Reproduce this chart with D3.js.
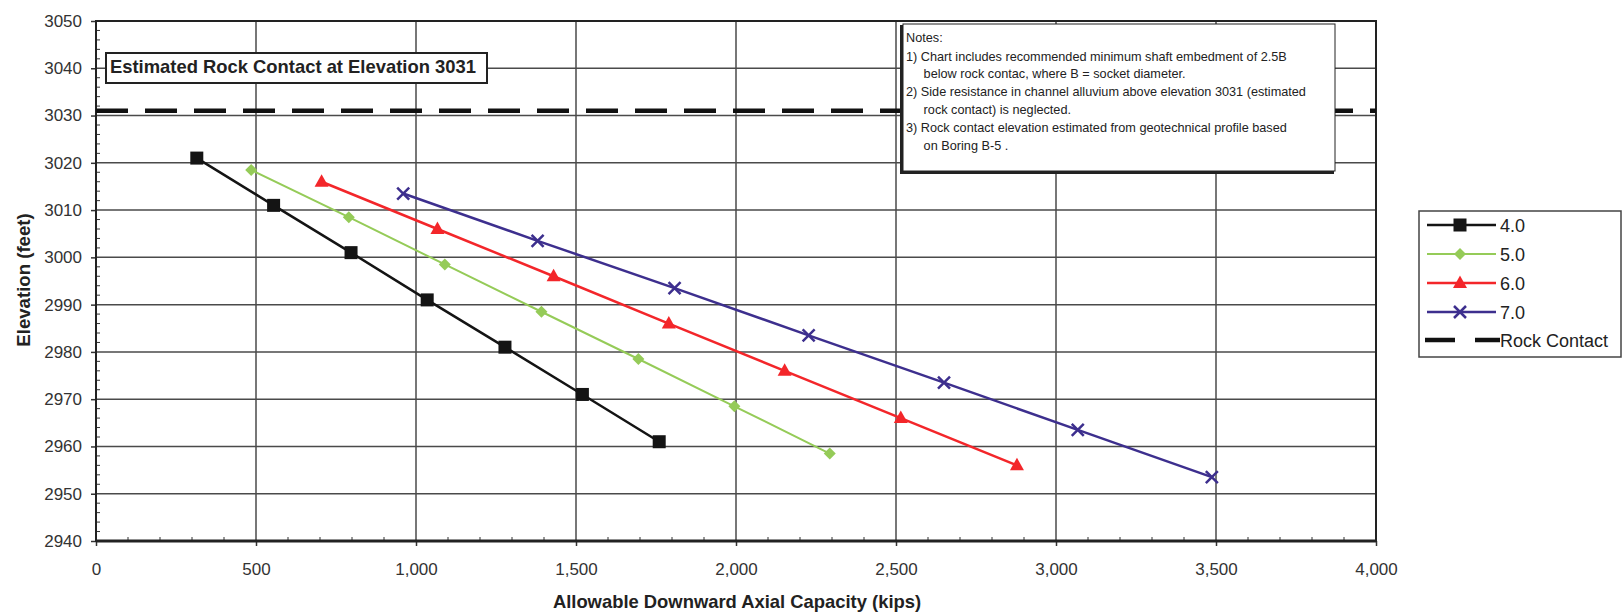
<!DOCTYPE html>
<html><head><meta charset="utf-8">
<script src="https://cdn.jsdelivr.net/npm/d3@7"></script>
<style>body{margin:0;background:#fff;} svg{display:block;} text{font-family:"Liberation Sans",Arial,sans-serif;}</style>
</head><body><svg id="c" width="1623" height="612"></svg>
<script>
const elev40 = [3021, 3011, 3001, 2991, 2981, 2971, 2961];
const cap40  = [315, 555, 797, 1035, 1278, 1520, 1760];
const elev50 = [3018.5, 3008.5, 2998.5, 2988.5, 2978.5, 2968.5, 2958.5];
const cap50  = [485, 790, 1090, 1392, 1695, 1995, 2293];
const elev60 = [3016, 3006, 2996, 2986, 2976, 2966, 2956];
const cap60  = [705, 1067, 1430, 1790, 2152, 2515, 2878];
const elev70 = [3013.5, 3003.5, 2993.5, 2983.5, 2973.5, 2963.5, 2953.5];
const cap70  = [960, 1380, 1808, 2227, 2650, 3068, 3487];
const seriesNames = ["4.0", "5.0", "6.0", "7.0"];
const rockContact = 3031;
const xTicks = [0, 500, 1000, 1500, 2000, 2500, 3000, 3500, 4000];
const yTicks = [2940, 2950, 2960, 2970, 2980, 2990, 3000, 3010, 3020, 3030, 3040, 3050];
const notes = [
  "Notes:",
  "1) Chart includes recommended minimum shaft embedment of 2.5B",
  "     below rock contac, where B = socket diameter.",
  "2) Side resistance in channel alluvium above elevation 3031 (estimated",
  "     rock contact) is neglected.",
  "3) Rock contact elevation estimated from geotechnical profile based",
  "     on Boring B-5 ."
];

const svg = d3.select("#c");
const x = d3.scaleLinear().domain([0, 4000]).range([96, 1376]);
const y = d3.scaleLinear().domain([2940, 3050]).range([541, 21]);
const L = 96, R = 1376, T = 21, B = 541;

// grid
svg.append("g").selectAll("line").data(xTicks.slice(1, -1)).join("line")
  .attr("x1", d => x(d)).attr("x2", d => x(d)).attr("y1", T).attr("y2", B)
  .attr("stroke", "#4a4a4a").attr("stroke-width", 1.5);
svg.append("g").selectAll("line").data(yTicks.slice(1, -1)).join("line")
  .attr("y1", d => y(d)).attr("y2", d => y(d)).attr("x1", L).attr("x2", R)
  .attr("stroke", "#4a4a4a").attr("stroke-width", 1.5);

// minor ticks
const xMinor = d3.range(0, 4001, 100).filter(v => v % 500 !== 0);
const yMinor = d3.range(2940, 3051, 2).filter(v => v % 10 !== 0);
svg.append("g").selectAll("line").data(xMinor).join("line")
  .attr("x1", d => x(d)).attr("x2", d => x(d)).attr("y1", B).attr("y2", B - 4)
  .attr("stroke", "#333").attr("stroke-width", 1);
svg.append("g").selectAll("line").data(yMinor).join("line")
  .attr("y1", d => y(d)).attr("y2", d => y(d)).attr("x1", L).attr("x2", L + 4)
  .attr("stroke", "#333").attr("stroke-width", 1);

// axes
const xAxis = svg.append("g").attr("transform", `translate(0,${B})`)
  .call(d3.axisBottom(x).tickValues(xTicks).tickFormat(d3.format(",")).tickSize(5).tickPadding(17));
const yAxis = svg.append("g").attr("transform", `translate(${L},0)`)
  .call(d3.axisLeft(y).tickValues(yTicks).tickFormat(d3.format("d")).tickSize(5).tickPadding(9));
[xAxis, yAxis].forEach(a => {
  a.select(".domain").remove();
  a.selectAll("line").attr("stroke", "#333").attr("stroke-width", 1.5);
  a.selectAll("text").attr("font-size", 17).attr("fill", "#333")
    .attr("font-family", "'Liberation Sans', Arial, sans-serif");
});
xAxis.selectAll("text").attr("dy", null).attr("y", 34);

// plot frame
svg.append("rect").attr("x", L).attr("y", T).attr("width", R - L).attr("height", B - T)
  .attr("fill", "none").attr("stroke", "#222").attr("stroke-width", 2);
svg.append("line").attr("x1", L).attr("x2", R).attr("y1", B).attr("y2", B)
  .attr("stroke", "#222").attr("stroke-width", 3);

// rock contact dashed line
svg.append("line").attr("x1", x(0)).attr("x2", x(4000)).attr("y1", y(rockContact)).attr("y2", y(rockContact))
  .attr("stroke", "#111").attr("stroke-width", 4.5).attr("stroke-dasharray", "32,17");

// series
const series = [
  {name: seriesNames[0], xs: cap40, ys: elev40, color: "#141414", w: 2.5, shape: "square"},
  {name: seriesNames[1], xs: cap50, ys: elev50, color: "#95cb58", w: 2, shape: "diamond"},
  {name: seriesNames[2], xs: cap60, ys: elev60, color: "#f3262a", w: 2.5, shape: "triangle"},
  {name: seriesNames[3], xs: cap70, ys: elev70, color: "#3d2f8e", w: 2.5, shape: "x"}
];
const line = d3.line().x(d => x(d[0])).y(d => y(d[1]));
function marker(g, shape, color, cx, cy) {
  if (shape === "square") {
    g.append("rect").attr("x", cx - 6.5).attr("y", cy - 6.5).attr("width", 13).attr("height", 13).attr("fill", color);
  } else if (shape === "diamond") {
    g.append("path").attr("d", `M${cx},${cy-6}L${cx+6},${cy}L${cx},${cy+6}L${cx-6},${cy}Z`).attr("fill", color);
  } else if (shape === "triangle") {
    g.append("path").attr("d", `M${cx},${cy-7.5}L${cx+7},${cy+5}L${cx-7},${cy+5}Z`).attr("fill", color);
  } else {
    g.append("path").attr("d", `M${cx-6},${cy-6}L${cx+6},${cy+6}M${cx-6},${cy+6}L${cx+6},${cy-6}`)
      .attr("stroke", color).attr("stroke-width", 2.5).attr("fill", "none");
  }
}
series.forEach(s => {
  const pts = s.xs.map((v, i) => [v, s.ys[i]]);
  svg.append("path").attr("d", line(pts)).attr("fill", "none").attr("stroke", s.color).attr("stroke-width", s.w);
  const g = svg.append("g");
  pts.forEach(p => marker(g, s.shape, s.color, x(p[0]), y(p[1])));
});

// rock contact label box
svg.append("rect").attr("x", 106).attr("y", 53).attr("width", 381).attr("height", 30)
  .attr("fill", "#fff").attr("stroke", "#222").attr("stroke-width", 2);
svg.append("text").attr("x", 110).attr("y", 72.5).attr("font-size", 18.4).attr("font-weight", "bold")
  .attr("fill", "#222").text("Estimated Rock Contact at Elevation " + rockContact);

// notes box
svg.append("rect").attr("x", 900).attr("y", 25).attr("width", 434).attr("height", 149).attr("fill", "#222");
svg.append("rect").attr("x", 903).attr("y", 24).attr("width", 432).attr("height", 147)
  .attr("fill", "#fff").attr("stroke", "#222").attr("stroke-width", 1);
const nb = [42, 61, 78, 96, 114, 132, 150];
svg.append("g").selectAll("text").data(notes).join("text")
  .attr("x", 906).attr("y", (d, i) => nb[i]).attr("font-size", 12.7).attr("fill", "#222")
  .attr("xml:space", "preserve").style("white-space", "pre").text(d => d);

// axis titles
svg.append("text").attr("x", 737).attr("y", 608).attr("text-anchor", "middle")
  .attr("font-size", 18.4).attr("font-weight", "bold").attr("fill", "#222")
  .text("Allowable Downward Axial Capacity (kips)");
svg.append("text").attr("transform", "translate(30,280) rotate(-90)").attr("text-anchor", "middle")
  .attr("font-size", 18.6).attr("font-weight", "bold").attr("fill", "#222").text("Elevation (feet)");

// legend
const lg = svg.append("g");
lg.append("rect").attr("x", 1419).attr("y", 211).attr("width", 202).attr("height", 146)
  .attr("fill", "#fff").attr("stroke", "#444").attr("stroke-width", 1.5);
const ly = [225, 254, 283, 312, 340];
series.forEach((s, i) => {
  lg.append("line").attr("x1", 1427).attr("x2", 1496).attr("y1", ly[i]).attr("y2", ly[i])
    .attr("stroke", s.color).attr("stroke-width", s.w);
  marker(lg, s.shape, s.color, 1460, ly[i]);
  lg.append("text").attr("x", 1500).attr("y", ly[i] + 6.5).attr("font-size", 18).attr("fill", "#222").text(s.name);
});
lg.append("line").attr("x1", 1425).attr("x2", 1500).attr("y1", ly[4]).attr("y2", ly[4])
  .attr("stroke", "#111").attr("stroke-width", 4.5).attr("stroke-dasharray", "30,20");
lg.append("text").attr("x", 1500).attr("y", ly[4] + 6.5).attr("font-size", 18).attr("fill", "#222").text("Rock Contact");
</script></body></html>
